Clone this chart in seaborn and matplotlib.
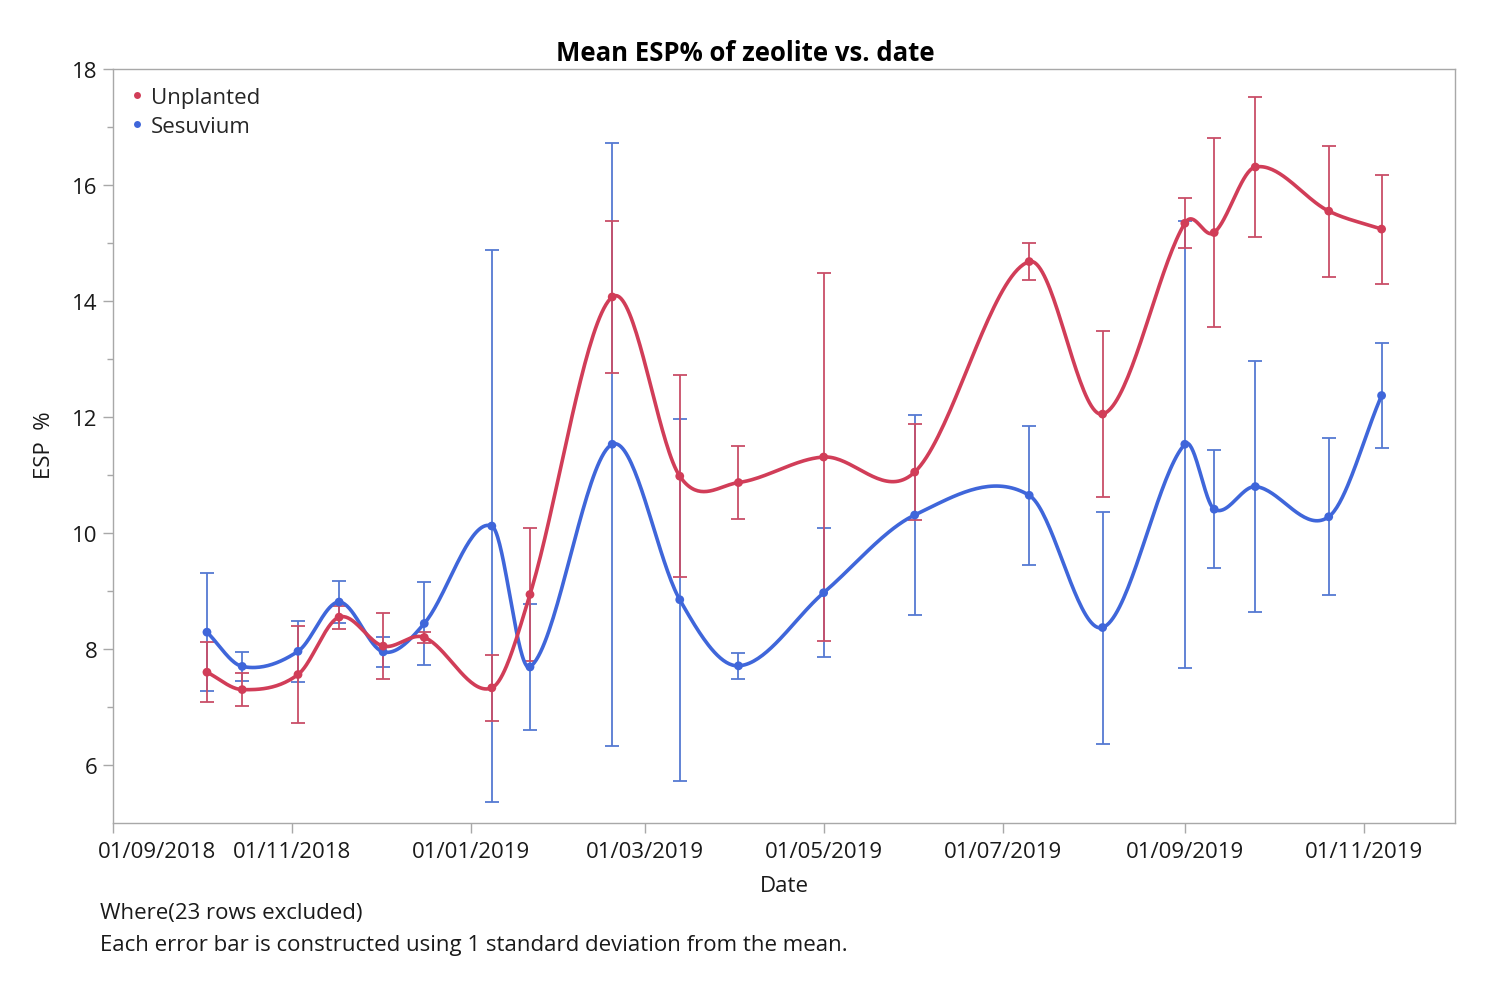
import numpy as np
import pandas as pd
import seaborn as sns
import matplotlib
matplotlib.use("Agg")
import matplotlib.pyplot as plt
import matplotlib.dates as mdates
from matplotlib.lines import Line2D
from matplotlib.transforms import ScaledTranslation

# sampling dates (same for both groups)
dates = ["2018-10-03", "2018-10-15", "2018-11-03", "2018-11-17", "2018-12-02",
         "2018-12-16", "2019-01-08", "2019-01-21", "2019-02-18", "2019-03-13",
         "2019-04-02", "2019-05-01", "2019-06-01", "2019-07-10", "2019-08-04",
         "2019-09-01", "2019-09-11", "2019-09-25", "2019-10-20", "2019-11-07"]

unplanted_mean = [7.60, 7.30, 7.56, 8.55, 8.05, 8.20, 7.33, 8.94, 14.07, 10.98,
                  10.87, 11.31, 11.05, 14.68, 12.05, 15.34, 15.18, 16.31, 15.55, 15.24]
unplanted_sd = [0.52, 0.29, 0.83, 0.20, 0.57, 0.10, 0.57, 1.15, 1.31, 1.74,
                0.63, 3.18, 0.83, 0.32, 1.43, 0.43, 1.63, 1.20, 1.13, 0.94]

sesuvium_mean = [8.29, 7.70, 7.96, 8.81, 7.95, 8.44, 10.12, 7.69, 11.53, 8.85,
                 7.71, 8.97, 10.31, 10.65, 8.37, 11.53, 10.41, 10.80, 10.28, 12.37]
sesuvium_sd = [1.02, 0.25, 0.53, 0.37, 0.26, 0.72, 4.76, 1.08, 5.20, 3.12,
               0.22, 1.11, 1.73, 1.20, 2.00, 3.85, 1.02, 2.17, 1.35, 0.90]

groups = ["Unplanted", "Sesuvium"]
tick_dates = ["2018-09-01", "2018-11-01", "2019-01-01", "2019-03-01",
              "2019-05-01", "2019-07-01", "2019-09-01", "2019-11-01"]
tick_labels = ["01/09/2018", "01/11/2018", "01/01/2019", "01/03/2019",
               "01/05/2019", "01/07/2019", "01/09/2019", "01/11/2019"]

line_colors = {"Unplanted": "#D13D58", "Sesuvium": "#3F66DA"}
bar_colors = {"Unplanted": "#C94E68", "Sesuvium": "#5579D2"}

df = pd.concat([
    pd.DataFrame({"date": pd.to_datetime(dates), "mean": unplanted_mean,
                  "sd": unplanted_sd, "group": "Unplanted"}),
    pd.DataFrame({"date": pd.to_datetime(dates), "mean": sesuvium_mean,
                  "sd": sesuvium_sd, "group": "Sesuvium"}),
], ignore_index=True)


def smooth_connect(x, y, per_seg=40):
    # cubic Hermite (Catmull-Rom style tangents) through the means
    x = np.asarray(x, float)
    y = np.asarray(y, float)
    n = len(x)
    m = np.zeros(n)
    m[1:-1] = (y[2:] - y[:-2]) / (x[2:] - x[:-2])
    m[0] = (y[1] - y[0]) / (x[1] - x[0])
    m[-1] = (y[-1] - y[-2]) / (x[-1] - x[-2])
    xs_all, ys_all = [], []
    for i in range(n - 1):
        h = x[i + 1] - x[i]
        t = np.linspace(0, 1, per_seg)
        h00 = 2 * t ** 3 - 3 * t ** 2 + 1
        h10 = t ** 3 - 2 * t ** 2 + t
        h01 = -2 * t ** 3 + 3 * t ** 2
        h11 = t ** 3 - t ** 2
        xs_all.append(x[i] + t * h)
        ys_all.append(h00 * y[i] + h10 * h * m[i] + h01 * y[i + 1] + h11 * h * m[i + 1])
    return np.concatenate(xs_all), np.concatenate(ys_all)


sns.set_theme(style="white")
plt.rcParams['font.family'] = ['Open Sans', 'DejaVu Sans']

fig = plt.figure(figsize=(15.02, 10.03), dpi=100)
ax = fig.add_axes([113 / 1502, 1 - 824 / 1003, (1455 - 113) / 1502, (824 - 70) / 1003])

for g in ["Sesuvium", "Unplanted"]:
    sub = df[df["group"] == g]
    ax.errorbar(sub["date"], sub["mean"], yerr=sub["sd"], fmt="none",
                ecolor=bar_colors[g], elinewidth=1.3, capsize=5, capthick=1.3, zorder=2)
    xnum = mdates.date2num(sub["date"])
    xs, ys = smooth_connect(xnum, sub["mean"].values)
    smooth = pd.DataFrame({"date": mdates.num2date(xs), "val": ys})
    sns.lineplot(data=smooth, x="date", y="val", color=line_colors[g],
                 linewidth=2.6, ax=ax, zorder=3, sort=False)
    sns.scatterplot(data=sub, x="date", y="mean", color=line_colors[g],
                    s=40, edgecolor="none", ax=ax, zorder=4)

ax.set_xlim(pd.Timestamp("2018-09-01"), pd.Timestamp("2019-12-02"))
ax.set_ylim(5, 18)
ax.set_xticks(mdates.date2num(pd.to_datetime(tick_dates)), labels=tick_labels)
ax.set_yticks([6, 8, 10, 12, 14, 16, 18])
ax.set_yticks([7, 9, 11, 13, 15, 17], minor=True)

for s in ax.spines.values():
    s.set_color("#A8A8A8")
    s.set_linewidth(1.0)
ax.tick_params(axis="both", which="major", direction="out", length=7, width=1,
               color="#A8A8A8", labelsize=16, labelcolor="#1a1a1a", pad=4)
ax.tick_params(axis="x", which="major", pad=6)
ax.tick_params(axis="y", which="minor", direction="out", length=4, width=1,
               color="#A8A8A8", left=True)
ax.tick_params(axis="x", bottom=True)
ax.tick_params(axis="y", left=True)

# first date label is pushed right so it does not overhang the frame
first = ax.get_xticklabels()[0]
first.set_horizontalalignment("left")
first.set_transform(first.get_transform() + ScaledTranslation(-0.15, 0, fig.dpi_scale_trans))

ax.set_xlabel("Date", fontsize=16, color="#1a1a1a", labelpad=9)
ax.set_ylabel("ESP  %", fontsize=16, color="#1a1a1a")
ax.yaxis.set_label_coords(-0.043, 0.503)

fig.text(745 / 1502, 1 - 54 / 1003, "Mean ESP% of zeolite vs. date",
         ha="center", va="center", fontsize=18.5, fontweight="bold", color="black")

handles = [Line2D([0], [0], marker="o", linestyle="none", markersize=5,
                  markerfacecolor=line_colors[g], markeredgecolor="none") for g in groups]
ax.legend(handles, groups, loc="upper left", bbox_to_anchor=(0.0, 0.997),
          frameon=False, fontsize=16, handlelength=0.8, handletextpad=0.2,
          labelspacing=0.35, borderaxespad=0.3)

fig.text(100 / 1502, 1 - 914 / 1003, "Where(23 rows excluded)",
         ha="left", va="center", fontsize=16, color="#1a1a1a")
fig.text(100 / 1502, 1 - 946 / 1003,
         "Each error bar is constructed using 1 standard deviation from the mean.",
         ha="left", va="center", fontsize=16, color="#1a1a1a")

fig.savefig("out.png", dpi=100, facecolor="white")
